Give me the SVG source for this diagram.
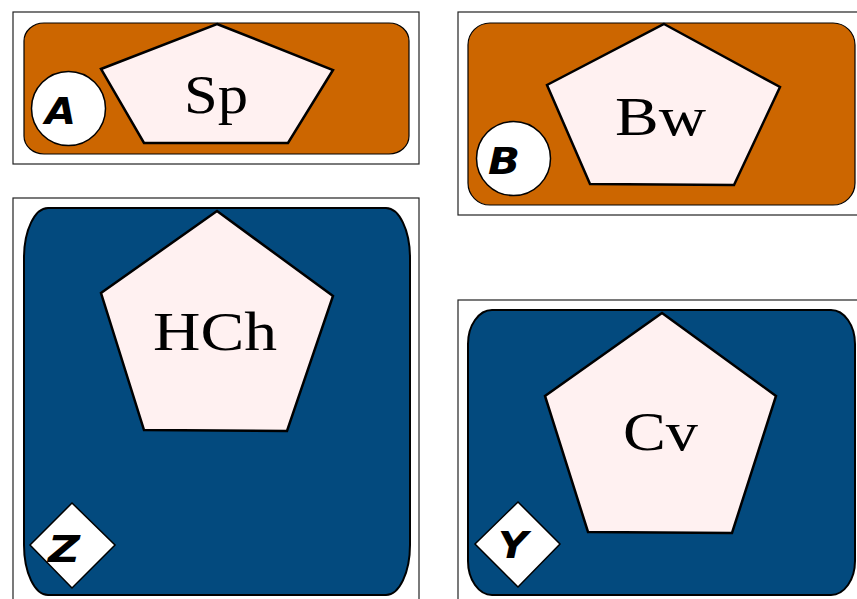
<svg xmlns="http://www.w3.org/2000/svg" width="857" height="599" viewBox="0 0 857 599">
<style>
.frame{fill:#fff;stroke:#222;stroke-width:1.2}
.or{fill:#cc6600;stroke:#000;stroke-width:1.2}
.bl{fill:#034a7e;stroke:#000;stroke-width:2}
.pent{fill:#fff1f1;stroke:#000;stroke-width:2.5;stroke-linejoin:miter}
.badge{fill:#fff;stroke:#000;stroke-width:1.5}
.lbl{font-family:"Liberation Serif","Times New Roman",serif;font-size:54px;fill:#000}
.tag{font-family:"DejaVu Sans","Liberation Sans",sans-serif;font-weight:bold;font-style:italic;font-size:37px;fill:#000}
</style>
<g id="panelA">
<rect class="frame" x="13" y="12" width="406" height="152"/>
<rect class="or" x="24" y="23" width="385" height="131" rx="20" ry="18"/>
<polygon class="pent" points="217,24 333,70 288,143 144,143 101,69"/>
<text class="lbl" x="184" y="113" textLength="64" lengthAdjust="spacingAndGlyphs">Sp</text>
<circle class="badge" cx="68.5" cy="108.5" r="37"/>
<text class="tag" x="45" y="124" textLength="31" lengthAdjust="spacingAndGlyphs">A</text>
</g>
<g id="panelB">
<rect class="frame" x="458" y="12" width="405" height="203"/>
<rect class="or" x="468" y="23" width="387" height="182" rx="22" ry="22"/>
<polygon class="pent" points="664,24 780,87 734,185 590,184 547,85"/>
<text class="lbl" x="615" y="135" textLength="91" lengthAdjust="spacingAndGlyphs">Bw</text>
<circle class="badge" cx="513.5" cy="158.5" r="37"/>
<text class="tag" x="488" y="174" textLength="32" lengthAdjust="spacingAndGlyphs">B</text>
</g>
<g id="panelZ">
<rect class="frame" x="13" y="198" width="406" height="410"/>
<rect class="bl" x="24" y="208" width="386" height="387" rx="24" ry="50"/>
<polygon class="pent" points="217,211 333,296 287,431 144,430 101,293"/>
<text class="lbl" x="153" y="350" textLength="124" lengthAdjust="spacingAndGlyphs">HCh</text>
<polygon class="badge" points="72,503 115,545 72,588 30,545"/>
<text class="tag" x="48" y="562" textLength="32" lengthAdjust="spacingAndGlyphs">Z</text>
</g>
<g id="panelY">
<rect class="frame" x="458" y="300" width="405" height="310"/>
<rect class="bl" x="468" y="310" width="387" height="285" rx="24" ry="34"/>
<polygon class="pent" points="662,313 776,396 732,533 588,532 545,396"/>
<text class="lbl" x="623" y="450" textLength="75" lengthAdjust="spacingAndGlyphs">Cv</text>
<polygon class="badge" points="518,502 560,544 518,587 475,544"/>
<text class="tag" x="498" y="558" textLength="30" lengthAdjust="spacingAndGlyphs">Y</text>
</g>
<g id="connectors"/>
</svg>
